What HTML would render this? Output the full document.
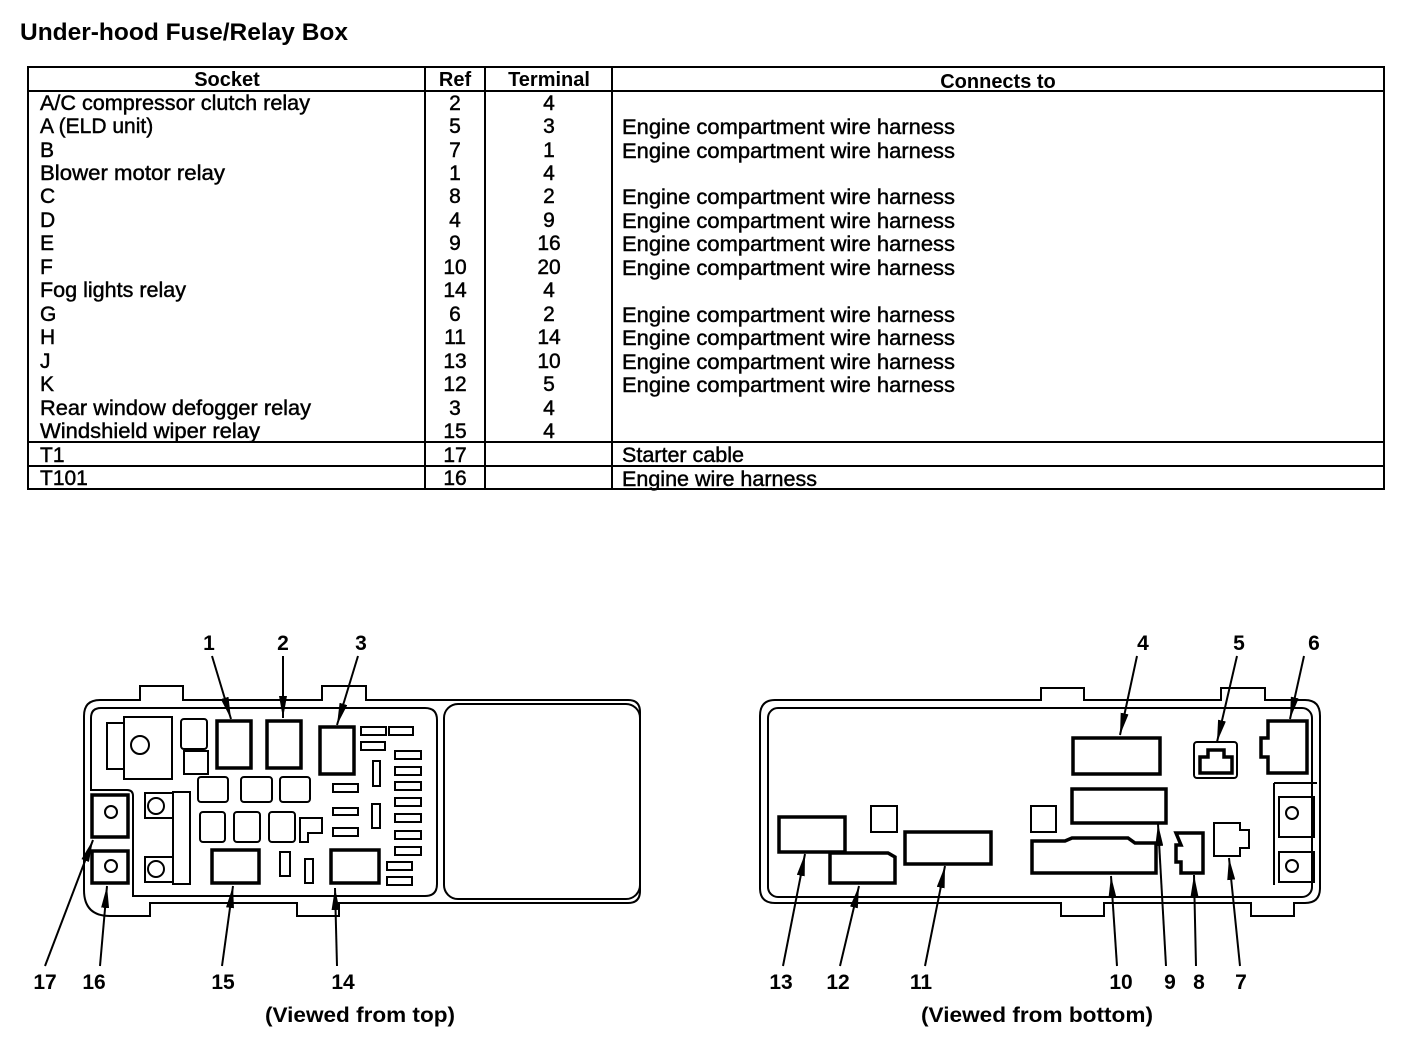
<!DOCTYPE html>
<html><head><meta charset="utf-8"><style>
html,body{margin:0;padding:0;background:#fff}
svg{display:block}
text{font-family:"Liberation Sans",sans-serif;fill:#000}
.r text{stroke:#000;stroke-width:0.45}
</style></head><body>
<svg width="1408" height="1056" viewBox="0 0 1408 1056" xmlns="http://www.w3.org/2000/svg">
<defs>
<marker id="ah" viewBox="0 0 22 8" refX="22" refY="4" markerWidth="22" markerHeight="8" markerUnits="userSpaceOnUse" orient="auto">
<path d="M0,0 L22,4 L0,8 z" fill="#000"/></marker>
</defs>
<text x="20" y="40" font-size="24" font-weight="bold" textLength="328" lengthAdjust="spacingAndGlyphs">Under-hood Fuse/Relay Box</text>

<!-- table -->
<g fill="none" stroke="#000" stroke-width="2">
<rect x="28" y="67" width="1356" height="422"/>
<line x1="28" y1="91" x2="1384" y2="91"/>
<line x1="425" y1="67" x2="425" y2="489"/>
<line x1="485" y1="67" x2="485" y2="489"/>
<line x1="612" y1="67" x2="612" y2="489"/>
<line x1="28" y1="442" x2="1384" y2="442"/>
<line x1="28" y1="466" x2="1384" y2="466"/>
</g>
<g font-size="20" font-weight="bold" text-anchor="middle">
<text x="227" y="86">Socket</text><text x="455" y="86">Ref</text><text x="549" y="86">Terminal</text><text x="998" y="88">Connects to</text>
</g>
<g class="r" font-size="21">
<text x="40" y="110" textLength="270" lengthAdjust="spacingAndGlyphs">A/C compressor clutch relay</text>
<text x="40" y="133">A (ELD unit)</text>
<text x="40" y="157">B</text>
<text x="40" y="180" textLength="185" lengthAdjust="spacingAndGlyphs">Blower motor relay</text>
<text x="40" y="203">C</text>
<text x="40" y="227">D</text>
<text x="40" y="250">E</text>
<text x="40" y="274">F</text>
<text x="40" y="297" textLength="146" lengthAdjust="spacingAndGlyphs">Fog lights relay</text>
<text x="40" y="321">G</text>
<text x="40" y="344">H</text>
<text x="40" y="368">J</text>
<text x="40" y="391">K</text>
<text x="40" y="415" textLength="271" lengthAdjust="spacingAndGlyphs">Rear window defogger relay</text>
<text x="40" y="438" textLength="220" lengthAdjust="spacingAndGlyphs">Windshield wiper relay</text>
<text x="40" y="462">T1</text>
<text x="40" y="485">T101</text>
</g>
<g class="r" font-size="21" text-anchor="middle">
<text x="455" y="110">2</text><text x="549" y="110">4</text>
<text x="455" y="133">5</text><text x="549" y="133">3</text>
<text x="455" y="157">7</text><text x="549" y="157">1</text>
<text x="455" y="180">1</text><text x="549" y="180">4</text>
<text x="455" y="203">8</text><text x="549" y="203">2</text>
<text x="455" y="227">4</text><text x="549" y="227">9</text>
<text x="455" y="250">9</text><text x="549" y="250">16</text>
<text x="455" y="274">10</text><text x="549" y="274">20</text>
<text x="455" y="297">14</text><text x="549" y="297">4</text>
<text x="455" y="321">6</text><text x="549" y="321">2</text>
<text x="455" y="344">11</text><text x="549" y="344">14</text>
<text x="455" y="368">13</text><text x="549" y="368">10</text>
<text x="455" y="391">12</text><text x="549" y="391">5</text>
<text x="455" y="415">3</text><text x="549" y="415">4</text>
<text x="455" y="438">15</text><text x="549" y="438">4</text>
<text x="455" y="462">17</text>
<text x="455" y="485">16</text>
</g>
<g class="r" font-size="21">
<text x="622" y="134" textLength="333" lengthAdjust="spacingAndGlyphs">Engine compartment wire harness</text>
<text x="622" y="158" textLength="333" lengthAdjust="spacingAndGlyphs">Engine compartment wire harness</text>
<text x="622" y="204" textLength="333" lengthAdjust="spacingAndGlyphs">Engine compartment wire harness</text>
<text x="622" y="228" textLength="333" lengthAdjust="spacingAndGlyphs">Engine compartment wire harness</text>
<text x="622" y="251" textLength="333" lengthAdjust="spacingAndGlyphs">Engine compartment wire harness</text>
<text x="622" y="275" textLength="333" lengthAdjust="spacingAndGlyphs">Engine compartment wire harness</text>
<text x="622" y="322" textLength="333" lengthAdjust="spacingAndGlyphs">Engine compartment wire harness</text>
<text x="622" y="345" textLength="333" lengthAdjust="spacingAndGlyphs">Engine compartment wire harness</text>
<text x="622" y="369" textLength="333" lengthAdjust="spacingAndGlyphs">Engine compartment wire harness</text>
<text x="622" y="392" textLength="333" lengthAdjust="spacingAndGlyphs">Engine compartment wire harness</text>
<text x="622" y="462" textLength="122" lengthAdjust="spacingAndGlyphs">Starter cable</text>
<text x="622" y="486" textLength="195" lengthAdjust="spacingAndGlyphs">Engine wire harness</text>
</g>

<!-- LEFT DIAGRAM -->
<g fill="none" stroke="#000" stroke-width="2">
<path d="M140,700 L140,686 L183,686 L183,700 L322,700 L322,686 L366,686 L366,700 L628,700 Q640,700 640,712 L640,891 Q640,903 628,903 L339,903 L339,916 L297,916 L297,903 L150,903 L150,916 L110,916 Q84,916 84,890 L84,716 Q84,700 100,700 Z"/>
<path d="M101,708 L425,708 Q437,708 437,720 L437,884 Q437,896 425,896 L133,896 L133,796 Q133,790 127,790 L91,790 L91,718 Q91,708 101,708 Z"/>
<rect x="444" y="704" width="196" height="195" rx="14"/>
<rect x="107" y="723" width="17" height="46"/>
<rect x="124" y="717" width="48" height="62"/>
<circle cx="140" cy="745" r="9"/>
<rect x="181" y="719" width="26" height="30" rx="3"/>
<rect x="184" y="751" width="24" height="23"/>
<rect x="198" y="777" width="30" height="25" rx="3"/>
<rect x="241" y="777" width="31" height="25" rx="3"/>
<rect x="280" y="777" width="30" height="25" rx="3"/>
<rect x="200" y="812" width="25" height="30" rx="3"/>
<rect x="234" y="812" width="26" height="30" rx="3"/>
<rect x="269" y="812" width="26" height="30" rx="3"/>
<path d="M300,818 L322,818 L322,833 L308,833 L308,842 L300,842 Z"/>
<rect x="361" y="727" width="25" height="8"/><rect x="389" y="727" width="24" height="8"/>
<rect x="361" y="742" width="24" height="8"/>
<rect x="395" y="751" width="26" height="8"/><rect x="395" y="767" width="26" height="8"/>
<rect x="395" y="782" width="26" height="8"/><rect x="395" y="798" width="26" height="8"/>
<rect x="395" y="814" width="26" height="8"/><rect x="395" y="831" width="26" height="8"/>
<rect x="395" y="847" width="26" height="8"/>
<rect x="373" y="761" width="7" height="25"/><rect x="372" y="804" width="8" height="24"/>
<rect x="333" y="784" width="25" height="8"/><rect x="333" y="808" width="25" height="7"/><rect x="333" y="828" width="25" height="8"/>
<rect x="280" y="852" width="10" height="24"/><rect x="305" y="859" width="8" height="24"/>
<rect x="387" y="862" width="25" height="8"/><rect x="387" y="877" width="25" height="8"/>
<rect x="173" y="792" width="17" height="92"/>
<rect x="145" y="793" width="28" height="25"/><circle cx="156" cy="806" r="8"/>
<rect x="145" y="857" width="28" height="25"/><circle cx="156" cy="869" r="8"/>
<circle cx="111" cy="812" r="6"/><circle cx="111" cy="866" r="6"/>
</g>
<g fill="none" stroke="#000" stroke-width="3.5">
<rect x="217" y="721" width="34" height="47"/>
<rect x="267" y="721" width="34" height="47"/>
<rect x="320" y="727" width="34" height="47"/>
<rect x="212" y="850" width="47" height="33"/>
<rect x="331" y="850" width="48" height="33"/>
<rect x="92" y="795" width="36" height="42"/>
<rect x="92" y="851" width="36" height="32"/>
</g>
<g stroke="#000" stroke-width="2" marker-end="url(#ah)" fill="none">
<line x1="212" y1="656" x2="231" y2="719"/>
<line x1="283" y1="656" x2="283" y2="718"/>
<line x1="358" y1="656" x2="337" y2="725"/>
<line x1="45" y1="966" x2="93" y2="840"/>
<line x1="100" y1="966" x2="107" y2="886"/>
<line x1="222" y1="966" x2="233" y2="886"/>
<line x1="337" y1="966" x2="335" y2="888"/>
</g>
<g font-size="21" font-weight="bold" text-anchor="middle">
<text x="209" y="650">1</text><text x="283" y="650">2</text><text x="361" y="650">3</text>
<text x="45" y="989">17</text><text x="94" y="989">16</text><text x="223" y="989">15</text><text x="343" y="989">14</text>
<text x="360" y="1022" textLength="190" lengthAdjust="spacingAndGlyphs">(Viewed from top)</text>
<text x="1037" y="1022" textLength="232" lengthAdjust="spacingAndGlyphs">(Viewed from bottom)</text>
</g>

<!-- RIGHT DIAGRAM -->
<g fill="none" stroke="#000" stroke-width="2">
<path d="M775,700 L1041,700 L1041,688 L1084,688 L1084,700 L1221,700 L1221,688 L1265,688 L1265,700 L1305,700 Q1320,700 1320,716 L1320,888 Q1320,903 1305,903 L1294,903 L1294,916 L1251,916 L1251,903 L1104,903 L1104,916 L1061,916 L1061,903 L775,903 Q760,903 760,888 L760,716 Q760,700 775,700 Z"/>
<rect x="768" y="708" width="544" height="189" rx="10"/>
<path d="M1274,783 L1317,783 M1274,783 L1274,885"/>
<rect x="1279" y="797" width="35" height="40"/><circle cx="1292" cy="813" r="6"/>
<rect x="1279" y="852" width="35" height="30"/><circle cx="1292" cy="866" r="6"/>
<rect x="871" y="806" width="26" height="26"/>
<rect x="1031" y="806" width="25" height="26"/>
<rect x="1194" y="742" width="43" height="36" rx="3"/>
<path d="M1214,823 L1240,823 L1240,830 L1249,830 L1249,848 L1240,848 L1240,856 L1214,856 Z"/>
</g>
<g fill="none" stroke="#000" stroke-width="3.5">
<path d="M1073,738 L1160,738 L1160,774 L1073,774 Z"/>
<path d="M1200,773 L1200,757 L1208,757 L1208,750 L1224,750 L1224,757 L1232,757 L1232,773 Z"/>
<path d="M1268,721 L1307,721 L1307,773 L1268,773 L1268,757 L1261,757 L1261,738 L1268,738 Z"/>
<path d="M1072,789 L1166,789 L1166,823 L1072,823 Z"/>
<path d="M1032,841 L1065,841 L1072,838 L1128,838 L1135,843 L1156,843 L1156,873 L1032,873 Z"/>
<path d="M1176,833 L1203,833 L1203,873 L1181,873 L1181,862 L1176,862 L1176,845 L1181,845 Z"/>
<rect x="779" y="817" width="66" height="35"/>
<path d="M830,853 L888,853 L895,857 L895,883 L830,883 Z"/>
<rect x="905" y="832" width="86" height="32"/>
</g>
<g stroke="#000" stroke-width="2" marker-end="url(#ah)" fill="none">
<line x1="1137" y1="656" x2="1120" y2="735"/>
<line x1="1237" y1="656" x2="1217" y2="742"/>
<line x1="1304" y1="656" x2="1290" y2="719"/>
<line x1="783" y1="966" x2="805" y2="854"/>
<line x1="840" y1="966" x2="859" y2="886"/>
<line x1="925" y1="966" x2="945" y2="866"/>
<line x1="1117" y1="966" x2="1111" y2="876"/>
<line x1="1166" y1="966" x2="1158" y2="824"/>
<line x1="1196" y1="966" x2="1194" y2="875"/>
<line x1="1240" y1="966" x2="1229" y2="858"/>
</g>
<g font-size="21" font-weight="bold" text-anchor="middle">
<text x="1143" y="650">4</text><text x="1239" y="650">5</text><text x="1314" y="650">6</text>
<text x="781" y="989">13</text><text x="838" y="989">12</text><text x="921" y="989">11</text>
<text x="1121" y="989">10</text><text x="1170" y="989">9</text><text x="1199" y="989">8</text><text x="1241" y="989">7</text>
</g>
</svg>
</body></html>
